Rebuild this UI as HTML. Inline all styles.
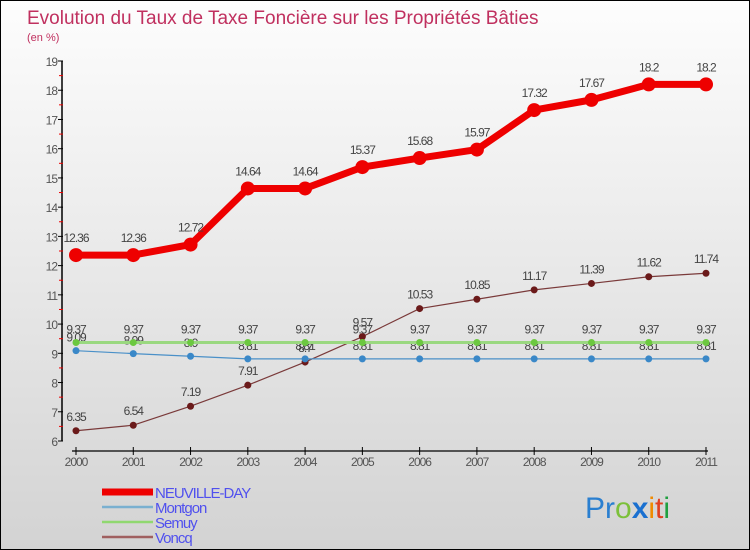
<!DOCTYPE html>
<html><head><meta charset="utf-8"><style>
body{margin:0}
#c{width:750px;height:550px;box-sizing:border-box;border:1px solid #000;background:linear-gradient(#fdfdfd,#d3d3d3);position:relative;overflow:hidden;font-family:"Liberation Sans",sans-serif}
svg{position:absolute;left:0;top:0}
</style></head><body>
<div id="c">
<svg id="s" width="750" height="550">
<text x="26" y="23" font-size="19" fill="#c0305f">Evolution du Taux de Taxe Foncière sur les Propriétés Bâties</text>
<text x="26" y="40" font-size="11" fill="#c0305f">(en %)</text>
<g><text x="584" y="517" font-size="30"><tspan fill="#2a7fd0">Pr</tspan><tspan fill="#7cc03a">o</tspan><tspan fill="#1a70d0" font-weight="bold">x</tspan><tspan fill="#f08a00">i</tspan><tspan fill="#e04020">t</tspan><tspan fill="#20a040">i</tspan></text></g>
</svg>
</div>
<script>
const years=[2000,2001,2002,2003,2004,2005,2006,2007,2008,2009,2010,2011];
const neuville=[12.36,12.36,12.72,14.64,14.64,15.37,15.68,15.97,17.32,17.67,18.2,18.2];
const montgon=[9.09,8.99,8.9,8.81,8.81,8.81,8.81,8.81,8.81,8.81,8.81,8.81];
const semuy=[9.37,9.37,9.37,9.37,9.37,9.37,9.37,9.37,9.37,9.37,9.37,9.37];
const voncq=[6.35,6.54,7.19,7.91,8.7,9.57,10.53,10.85,11.17,11.39,11.62,11.74];
const yTicks=[6,7,8,9,10,11,12,13,14,15,16,17,18,19];
const seriesNames=["NEUVILLE-DAY","Montgon","Semuy","Voncq"];
const NS="http://www.w3.org/2000/svg",s=document.getElementById('s');
const xS=i=>75+i*(630/11), yS=v=>440-(v-6)*(380/13);
function mk(t,a,p){const e=document.createElementNS(NS,t);for(const k in a)e.setAttribute(k,a[k]);(p||s).appendChild(e);return e;}
let ax=mk('line',{x1:61,y1:60,x2:61,y2:440,stroke:'#000','stroke-width':1.5});


yTicks.forEach(v=>{
 let t=mk('line',{x1:57,x2:62,y1:yS(v),y2:yS(v),stroke:'#000'});
 
 
 if(v<19){let m=mk('line',{x1:58,x2:62,y1:yS(v+0.5),y2:yS(v+0.5),stroke:'#e00'});
 
 }
 let l=mk('text',{x:56,y:yS(v)+5,'text-anchor':'end','font-size':12,fill:'#555','letter-spacing':-1});
 l.textContent=v;
 
 
});
let xa=mk('line',{x1:xS(0)-4,y1:450,x2:xS(11)+2,y2:450,stroke:'#000','stroke-width':1.2});


years.forEach((y,i)=>{
 let t=mk('line',{x1:xS(i),x2:xS(i),y1:446,y2:454,stroke:'#000'});
 
 
 let l=mk('text',{x:xS(i),y:465,'text-anchor':'middle','font-size':12,fill:'#555','letter-spacing':-1});
 l.textContent=y;
 
 
});
function series(vals,color,w,r,dot,name,dy){
 const g=mk('g',{});
 
 
 const p=mk('polyline',{points:vals.map((v,i)=>xS(i)+','+yS(v)).join(' '),fill:'none',stroke:color,'stroke-width':w,'stroke-linejoin':'round'},g);
 
 
 vals.forEach((v,i)=>{
  const c=mk('circle',{cx:xS(i),cy:yS(v),r:r,fill:dot},g);
  
  
  const t=mk('text',{x:xS(i),y:yS(v)+dy,'text-anchor':'middle','font-size':12,fill:'#444','letter-spacing':-1},g);
  t.textContent=v;
  
  
 });
}
series(voncq,'#7a3a3a',1.2,3.5,'#6b1a1a','voncq',-10);
series(montgon,'#4a90c8',1.2,3.5,'#3a88c8','montgon',-9);
series(semuy,'#9ad880',3,3.5,'#6cc840','semuy',-9);
series(neuville,'#ee0000',7,7,'#ee0000','neuville-day',-13);
const lc=['#ee0000','#7ab0d0','#90d870','#a06060'],lw=[7,2.5,2.5,2.5];
seriesNames.forEach((n,i)=>{
 const y=491+i*15;
 const l=mk('line',{x1:101,x2:152,y1:y,y2:y,stroke:lc[i],'stroke-width':lw[i]});
 
 
 const t=mk('text',{x:154,y:y+6,'font-size':15,fill:'#5050ee','letter-spacing':-1});
 t.textContent=n;
 
 
});
</script>
</body></html>
